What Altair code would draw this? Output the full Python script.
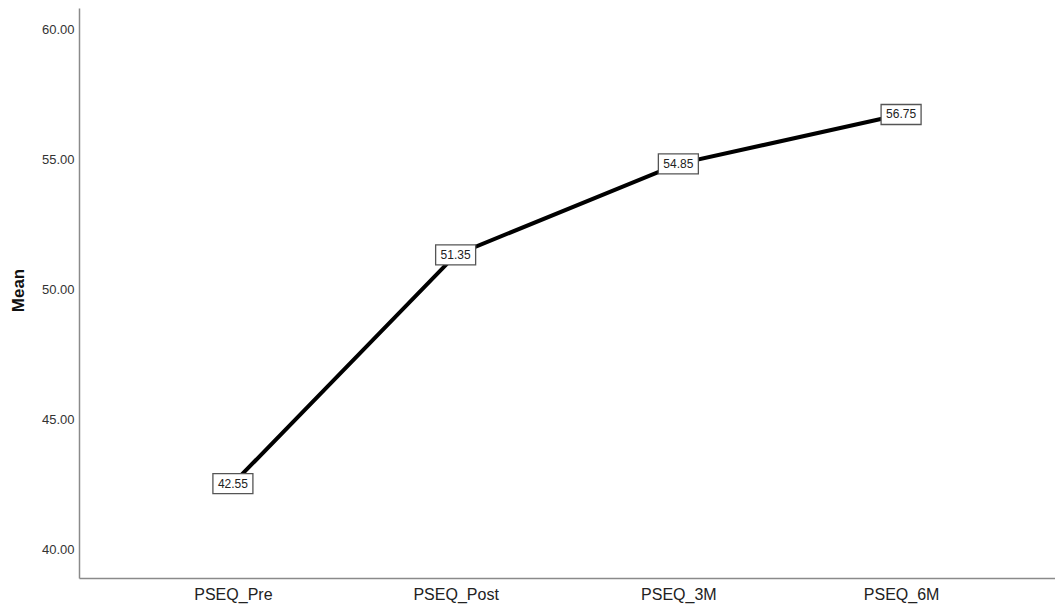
import altair as alt
import pandas as pd

categories = ["PSEQ_Pre", "PSEQ_Post", "PSEQ_3M", "PSEQ_6M"]
means = [42.55, 51.35, 54.85, 56.75]
y_ticks = [40, 45, 50, 55, 60]

df = pd.DataFrame({"cat": categories, "mean": means})
df["label"] = df["mean"].map(lambda v: f"{v:.2f}")

FONT = "Liberation Sans"

x = alt.X("cat:N", sort=categories, title=None,
          scale=alt.Scale(type="point", padding=0.691),
          axis=alt.Axis(labelAngle=0, labelFontSize=16, labelColor="#222",
                        labelFont=FONT, labelPadding=8, ticks=False,
                        domainColor="#8a8a8a", domainWidth=1.5, grid=False))
y = alt.Y("mean:Q", title="Mean",
          scale=alt.Scale(domain=[38.923, 60.846], nice=False, zero=False),
          axis=alt.Axis(values=y_ticks, format=".2f", labelFontSize=13,
                        labelColor="#333", labelFont=FONT, labelPadding=5,
                        ticks=False, grid=False, domainColor="#8a8a8a",
                        domainWidth=1.5, titleFont=FONT, titleFontSize=17,
                        titleFontWeight="bold", titleColor="#111",
                        titleAngle=-90, titleX=-61, titleY=282,
                        titleAlign="center", titleBaseline="middle"))

base = alt.Chart(df).encode(x=x, y=y)

line = base.mark_line(color="black", strokeWidth=4)
boxes = base.mark_point(shape="M-1,-0.5H1V0.5H-1Z", size=1600, filled=True,
                        fill="white", stroke="#555", strokeWidth=1.3,
                        opacity=1)
texts = base.mark_text(font=FONT, fontSize=12, color="#222").encode(text="label:N")

chart = alt.layer(line, boxes, texts).properties(
    width=976, height=570,
    autosize=alt.AutoSizeParams(type="none"),
    padding={"left": 71, "top": 0, "right": 0, "bottom": 35},
    view=alt.ViewBackground(strokeOpacity=0, strokeWidth=0),
).configure_view(strokeOpacity=0, strokeWidth=0).configure(background="white")

chart.save("out.html", embed_options={"renderer": "svg", "actions": False})
